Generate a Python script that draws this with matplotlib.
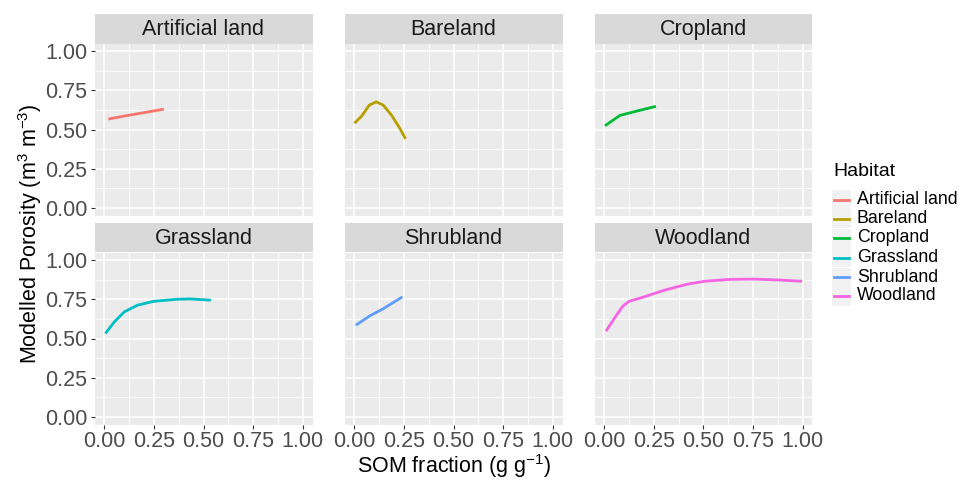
import matplotlib
matplotlib.use("Agg")
import matplotlib.pyplot as plt
import numpy as np

plt.rcParams['font.family'] = ['Liberation Sans', 'DejaVu Sans']
plt.rcParams['mathtext.fontset'] = 'custom'
plt.rcParams['mathtext.rm'] = 'Liberation Sans'
plt.rcParams['mathtext.it'] = 'Liberation Sans:italic'

# data
habitats = ["Artificial land", "Bareland", "Cropland", "Grassland", "Shrubland", "Woodland"]
colors = ["#F8766D", "#B79F00", "#00BA38", "#00BFC4", "#619CFF", "#F564E3"]

artificial_x = [0.02, 0.10, 0.20, 0.30]
artificial_y = [0.567, 0.586, 0.608, 0.630]
bare_x = [0.00, 0.037, 0.075, 0.11, 0.145, 0.187, 0.228, 0.258]
bare_y = [0.54, 0.586, 0.656, 0.677, 0.656, 0.592, 0.51, 0.44]
crop_x = [0.003, 0.078, 0.17, 0.26]
crop_y = [0.524, 0.59, 0.62, 0.648]
grass_x = [0.005, 0.05, 0.10, 0.167, 0.25, 0.367, 0.433, 0.537]
grass_y = [0.532, 0.606, 0.67, 0.713, 0.738, 0.751, 0.753, 0.745]
shrub_x = [0.007, 0.078, 0.145, 0.242]
shrub_y = [0.585, 0.645, 0.69, 0.766]
wood_x = [0.008, 0.05, 0.092, 0.125, 0.20, 0.30, 0.417, 0.505, 0.633, 0.75, 0.883, 0.997]
wood_y = [0.547, 0.628, 0.706, 0.738, 0.766, 0.808, 0.847, 0.866, 0.878, 0.88, 0.874, 0.866]

series = [(artificial_x, artificial_y), (bare_x, bare_y), (crop_x, crop_y),
          (grass_x, grass_y), (shrub_x, shrub_y), (wood_x, wood_y)]

ticks = [0.00, 0.25, 0.50, 0.75, 1.00]
tick_labels = ["0.00", "0.25", "0.50", "0.75", "1.00"]

W, H = 959, 480
fig = plt.figure(figsize=(W / 100, H / 100), dpi=100)


def px(x, y, w, h):
    # pixel box (top-left origin) -> figure fraction
    return [x / W, 1 - (y + h) / H, w / W, h / H]


lefts = [94.5, 344.5, 594.5]
tops = [43.5, 252.5]
pw, ph, sh = 218, 172, 30

for i, (name, col, (xs, ys)) in enumerate(zip(habitats, colors, series)):
    r, c = divmod(i, 3)
    ax = fig.add_axes(px(lefts[c], tops[r], pw, ph))
    ax.set_facecolor("#EBEBEB")
    for s in ax.spines.values():
        s.set_visible(False)
    ax.set_xlim(-0.05, 1.05)
    ax.set_ylim(-0.05, 1.05)
    ax.set_xticks(ticks)
    ax.set_yticks(ticks)
    ax.set_xticks([0.125, 0.375, 0.625, 0.875], minor=True)
    ax.set_yticks([0.125, 0.375, 0.625, 0.875], minor=True)
    ax.grid(which="major", color="white", linewidth=1.1)
    ax.grid(which="minor", color="white", linewidth=0.55)
    ax.set_axisbelow(True)
    ax.tick_params(which="minor", length=0)
    ax.tick_params(which="major", length=3, width=0.8, color="#333333",
                   labelsize=15.5, labelcolor="#4D4D4D", pad=2)
    if c == 0:
        ax.set_yticklabels(tick_labels)
    else:
        ax.tick_params(axis="y", length=0, labelleft=False)
    if r == 1:
        ax.set_xticklabels(tick_labels)
    else:
        ax.tick_params(axis="x", length=0, labelbottom=False)
    ax.plot(xs, ys, color=col, linewidth=2.0, solid_capstyle="butt")

    sax = fig.add_axes(px(lefts[c], tops[r] - sh, pw, sh))
    sax.set_facecolor("#D9D9D9")
    sax.set_xticks([])
    sax.set_yticks([])
    for s in sax.spines.values():
        s.set_visible(False)
    sax.text(0.5, 0.47, name, ha="center", va="center", fontsize=15.5,
             color="#1A1A1A", transform=sax.transAxes)

fig.text(454 / W, 1 - 466 / H, "SOM fraction (g g$^{-1}$)", ha="center", va="center",
         fontsize=15.5)
fig.text(30 / W, 1 - 234 / H, "Modelled Porosity (m$^3$ m$^{-3}$)", ha="center", va="center",
         rotation=90, fontsize=15.5)

# legend drawn by hand, ggplot style
lax = fig.add_axes([0, 0, 1, 1])
lax.set_xlim(0, W)
lax.set_ylim(H, 0)
lax.axis("off")
lax.text(833, 172, "Habitat", fontsize=14, va="center", ha="left")
key_y = [199.5, 218.5, 238, 257.5, 277, 296]
for name, col, ky in zip(habitats, colors, key_y):
    lax.add_patch(plt.Rectangle((832, ky - 9.5), 19, 19, facecolor="#F2F2F2", edgecolor="none"))
    lax.plot([834, 849], [ky, ky], color=col, linewidth=2.0)
    lax.text(857, ky, name, fontsize=12.8, va="center", ha="left")

fig.savefig("out.png", dpi=100)
